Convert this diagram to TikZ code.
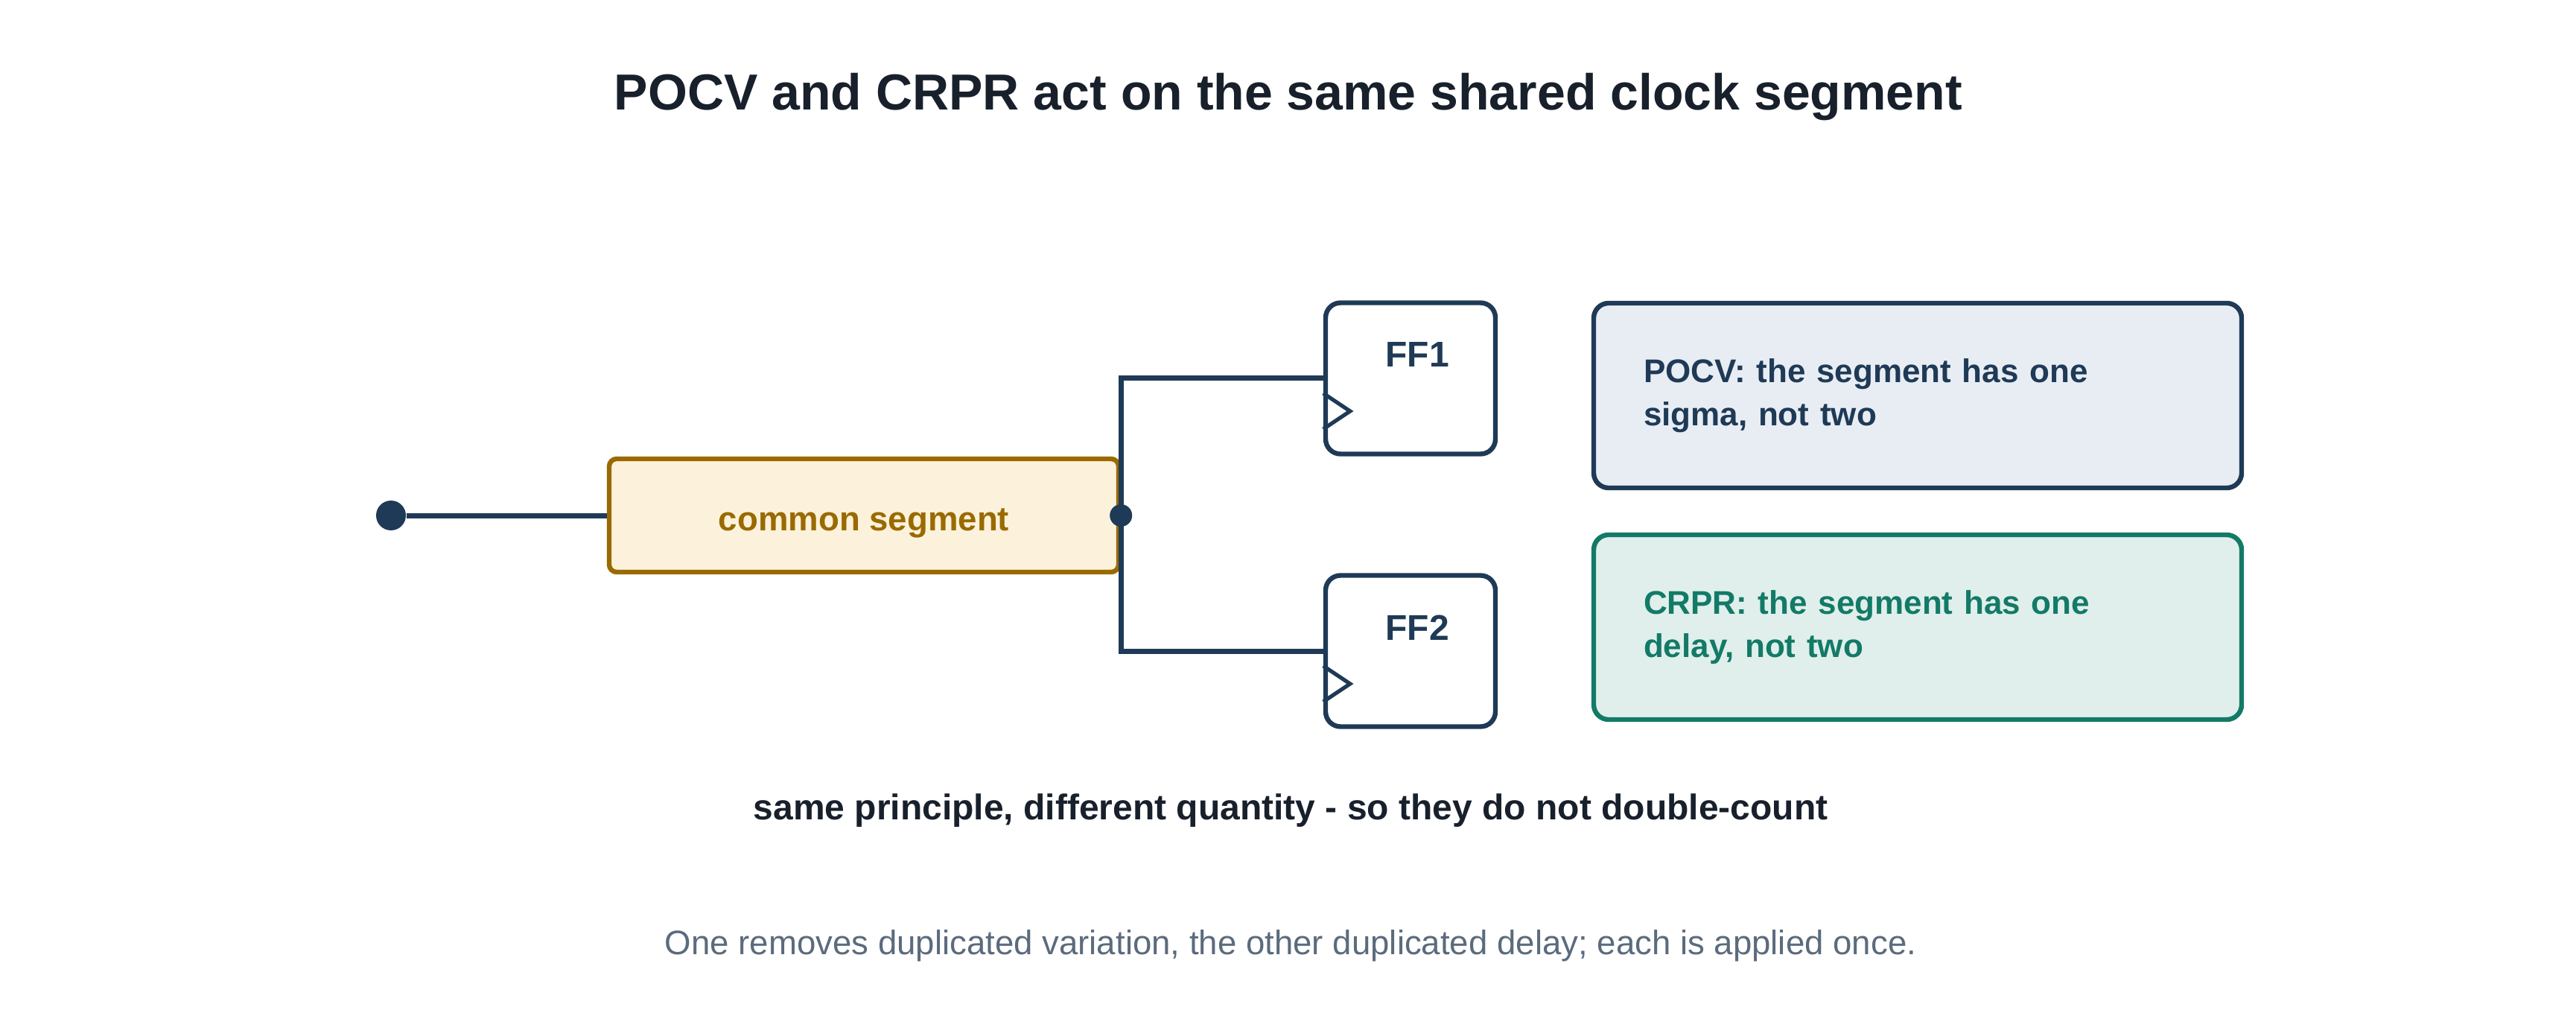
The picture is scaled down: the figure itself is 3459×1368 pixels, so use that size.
\documentclass[tikz,border=0pt]{standalone}
\usepackage{fontspec}
\setmainfont{Liberation Sans}
\definecolor{ink}{HTML}{18202C}
\definecolor{slate}{HTML}{5B6B7D}
\definecolor{pocvblue}{HTML}{1F3A56}
\definecolor{pocvfill}{HTML}{E8EDF4}
\definecolor{crprteal}{HTML}{137A67}
\definecolor{crprfill}{HTML}{E0EFEB}
\definecolor{seggold}{HTML}{9A6A00}
\definecolor{segfill}{HTML}{FCF2DC}
\begin{document}
\begin{tikzpicture}[x=0.25pt, y=-0.25pt,
    wire/.style={draw=pocvblue, line width=1.75pt},
    dot/.style={circle, fill=pocvblue, inner sep=0pt},
    segbox/.style={draw=seggold, fill=segfill, text=seggold, line width=1.6pt,
      rounded corners=2.5pt, minimum width=171pt, minimum height=38pt,
      text height=10.5pt, text depth=0pt,
      font=\bfseries\fontsize{11.4}{14}\selectfont},
    ffbox/.style={draw=pocvblue, fill=white, line width=1.6pt, rounded corners=5pt,
      minimum width=57pt, minimum height=50.75pt, inner sep=0pt},
    fflabel/.style={anchor=base, text=pocvblue, font=\bfseries\fontsize{12}{14}\selectfont},
    notebox/.style={line width=1.6pt, rounded corners=5pt, minimum width=217.5pt,
      minimum height=62pt, text width=184pt, inner xsep=16.75pt, align=left,
      font=\bfseries\fontsize{11}{14.5}\selectfont}]
  \fill[white] (0,0) rectangle (3459,1368);

  \node[anchor=base, text=ink, font=\bfseries\fontsize{17}{20}\selectfont] (title) at (1730,148)
    {POCV and CRPR act on the same shared clock segment};

  % clock path
  \node[dot, minimum size=10pt] (src) at (525,692) {};
  \node[segbox] (seg) at (1160,692) {common segment};
  \node[dot, minimum size=7.5pt] (jn) at (seg.east) {};

  \node[ffbox] (ff1) at (1894,508) {};
  \node[fflabel] (ff1txt) at (1903,493) {FF1};
  \node[ffbox] (ff2) at (1894,874) {};
  \node[fflabel] (ff2txt) at (1903,859) {FF2};

  \draw[wire] (src) -- (seg.west);
  \draw[wire] (jn.center) |- (ff1.west);
  \draw[wire] (jn.center) |- (ff2.west);

  % clock pins
  \draw[pocvblue, line width=1.3pt, line join=miter] ([yshift=-5pt]ff1.west) -- ++(36,24) -- ++(-36,24);
  \draw[pocvblue, line width=1.3pt, line join=miter] ([yshift=-5pt]ff2.west) -- ++(36,24) -- ++(-36,24);

  % notes
  \node[notebox, draw=pocvblue, fill=pocvfill, text=pocvblue] (pocv) at (2575,531)
    {POCV: the segment has one\\sigma, not two};
  \node[notebox, draw=crprteal, fill=crprfill, text=crprteal] (crpr) at (2575,842)
    {CRPR: the segment has one\\delay, not two};

  \node[anchor=base, text=ink, font=\bfseries\fontsize{12}{14}\selectfont] (summary) at (1733,1100)
    {same principle, different quantity - so they do not double-count};
  \node[anchor=base, text=slate, font=\fontsize{11.4}{14}\selectfont] (footer) at (1733,1281)
    {One removes duplicated variation, the other duplicated delay; each is applied once.};
\end{tikzpicture}
\end{document}
